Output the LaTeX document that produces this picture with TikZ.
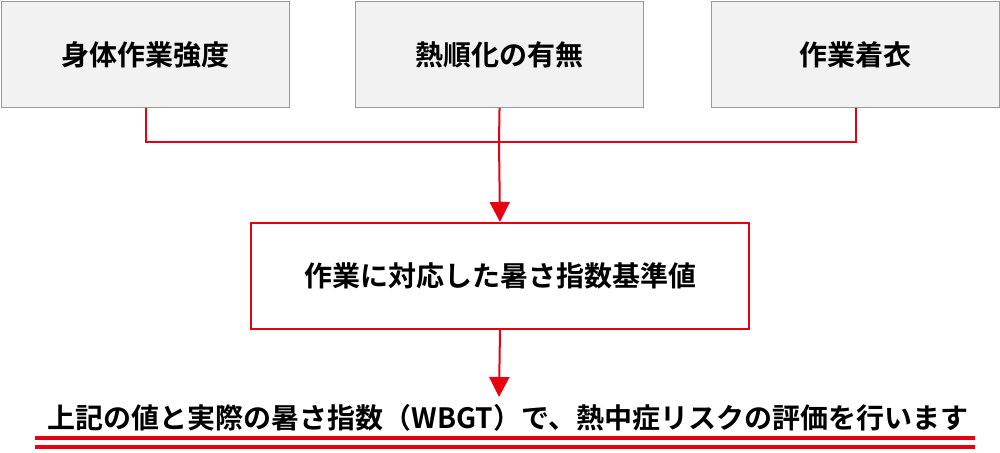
\documentclass[tikz,border=0pt]{standalone}
\usepackage{fontspec}
\setmainfont{Noto Sans CJK JP}[BoldFont={* Bold}]
\usetikzlibrary{arrows.meta}
\definecolor{rd}{HTML}{E60012}
\begin{document}
\begin{tikzpicture}[x=0.75pt,y=-0.75pt,
  top/.style={draw=gray!80,fill=gray!10,line width=0.8pt,minimum width=288*0.75pt,minimum height=106*0.75pt,anchor=north west,font=\bfseries\fontsize{21}{24}\selectfont},
  ln/.style={rd,line width=1.5pt},
  arr/.style={ln,-{Triangle[length=15pt,width=15pt]}}]
\useasboundingbox (0,0) rectangle (1000,453);
\node[top] (a) at (1,1) {身体作業強度};
\node[top] (b) at (355,1) {熱順化の有無};
\node[top] (c) at (711,1) {作業着衣};
\node[draw=rd,line width=1.5pt,minimum width=498*0.75pt,minimum height=106*0.75pt,font=\bfseries\fontsize{21}{24}\selectfont] (d) at (500,276) {作業に対応した暑さ指数基準値};
\node[font=\bfseries\fontsize{21}{24}\selectfont] (e) at (508,418) {上記の値と実際の暑さ指数（WBGT）で、熱中症リスクの評価を行います};
\coordinate (j) at (499,142);
\draw[ln] (a.south) |- (j) -| (c.south);
\draw[ln] (b.south) -- (j);
\draw[arr] (j) -- (d.north);
\draw[arr] (d.south) -- (499,397);
\draw[rd,line width=2.5pt] (35,438) -- (975,438);
\draw[rd,line width=2.5pt] (35,447) -- (975,447);
\end{tikzpicture}
\end{document}
